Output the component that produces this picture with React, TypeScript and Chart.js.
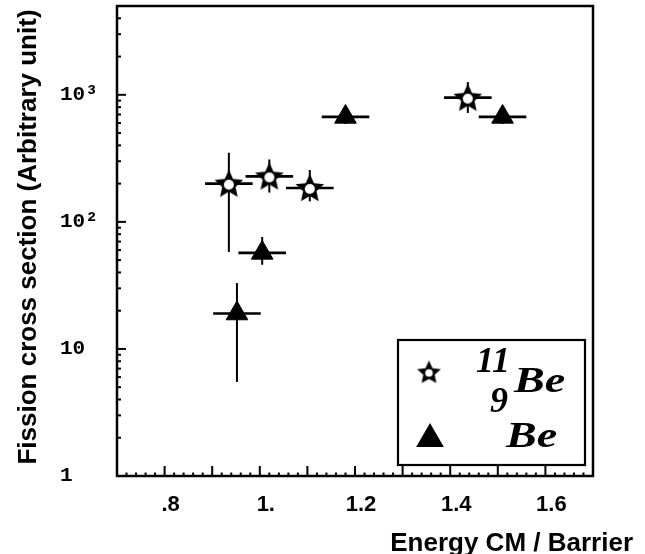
import React, { useEffect, useRef } from "react";
import { Chart, registerables } from "chart.js";

Chart.register(...registerables);

// ---- data ----
const be11X = [0.935, 1.02, 1.105, 1.437];
const be11Y = [200, 228, 185, 950];
const be11XErr = [0.05, 0.05, 0.05, 0.05];
const be11YLow = [58, 170, 145, 720];
const be11YHigh = [350, 310, 256, 1260];

const be9X = [0.952, 1.005, 1.18, 1.51];
const be9Y = [19, 57, 670, 670];
const be9XErr = [0.05, 0.05, 0.05, 0.05];
const be9YLow = [5.5, 46, 590, 590];
const be9YHigh = [33, 76, 760, 760];

const xTickValues = [0.8, 1.0, 1.2, 1.4, 1.6];
const xTickLabels = [".8", "1.", "1.2", "1.4", "1.6"];
const xMajorMarks = [0.8, 0.9, 1.0, 1.1, 1.2, 1.3, 1.4, 1.5, 1.6];
const yTickValues = [1, 10, 100, 1000];
const yTickLabels = ["1", "10", "10²", "10³"];

const xTitle = "Energy CM / Barrier";
const yTitle = "Fission cross section (Arbitrary unit)";

function makeStar(R: number, r: number, hole: number): HTMLCanvasElement {
  const c = document.createElement("canvas");
  const s = Math.ceil(2 * R + 4);
  c.width = s;
  c.height = s;
  const g = c.getContext("2d")!;
  const cx = s / 2;
  const cy = s / 2 + 1;
  g.beginPath();
  for (let i = 0; i < 10; i++) {
    const a = -Math.PI / 2 + (i * Math.PI) / 5;
    const rr = i % 2 === 0 ? R : r;
    const px = cx + Math.cos(a) * rr;
    const py = cy + Math.sin(a) * rr;
    if (i === 0) g.moveTo(px, py);
    else g.lineTo(px, py);
  }
  g.closePath();
  g.fillStyle = "#000";
  g.fill();
  g.beginPath();
  g.arc(cx, cy, hole, 0, Math.PI * 2);
  g.fillStyle = "#fff";
  g.fill();
  return c;
}

export default function App() {
  const ref = useRef<HTMLCanvasElement | null>(null);

  useEffect(() => {
    if (!ref.current) return;
    const star = makeStar(15, 7, 5);
    const legendStar = makeStar(12.5, 6, 3.8);

    const decor = {
      id: "decor",
      beforeDatasetsDraw(chart: any) {
        const { ctx } = chart;
        const x = chart.scales.x;
        const y = chart.scales.y;
        ctx.save();
        ctx.strokeStyle = "#000";
        const drawBars = (
          xs: number[],
          ys: number[],
          xe: number[],
          lo: number[],
          hi: number[]
        ) => {
          for (let i = 0; i < xs.length; i++) {
            const px = x.getPixelForValue(xs[i]);
            const py = y.getPixelForValue(ys[i]);
            ctx.lineWidth = 2.6;
            ctx.beginPath();
            ctx.moveTo(x.getPixelForValue(xs[i] - xe[i]), py);
            ctx.lineTo(x.getPixelForValue(xs[i] + xe[i]), py);
            ctx.stroke();
            ctx.lineWidth = 2;
            ctx.beginPath();
            ctx.moveTo(px, y.getPixelForValue(lo[i]));
            ctx.lineTo(px, y.getPixelForValue(hi[i]));
            ctx.stroke();
          }
        };
        drawBars(be11X, be11Y, be11XErr, be11YLow, be11YHigh);
        drawBars(be9X, be9Y, be9XErr, be9YLow, be9YHigh);
        ctx.restore();
      },
      afterDraw(chart: any) {
        const { ctx, chartArea: ca } = chart;
        const x = chart.scales.x;
        const y = chart.scales.y;
        ctx.save();
        ctx.strokeStyle = "#000";
        ctx.fillStyle = "#000";
        // frame
        ctx.lineWidth = 2.5;
        ctx.strokeRect(ca.left, ca.top, ca.right - ca.left, ca.bottom - ca.top);
        // y ticks (inward)
        ctx.lineWidth = 2;
        for (let d = 1; d <= 1000; d *= 10) {
          for (let m = 1; m <= 9; m++) {
            const v = d * m;
            if (v > y.max) continue;
            const py = y.getPixelForValue(v);
            const len = m === 1 ? 9 : 4;
            ctx.beginPath();
            ctx.moveTo(ca.left, py);
            ctx.lineTo(ca.left + len, py);
            ctx.stroke();
          }
        }
        // x ticks (inward)
        for (let k = 0; k <= 50; k++) {
          const v = 0.7 + k * 0.02;
          if (v > x.max + 1e-9) break;
          const isMajor = xMajorMarks.some((mv) => Math.abs(mv - v) < 1e-6);
          const px = x.getPixelForValue(v);
          const len = isMajor ? 10 : 3.5;
          ctx.beginPath();
          ctx.moveTo(px, ca.bottom);
          ctx.lineTo(px, ca.bottom - len);
          ctx.stroke();
        }
        // axis titles
        ctx.font = "bold 26px 'Liberation Sans', Arial, sans-serif";
        ctx.textAlign = "right";
        ctx.textBaseline = "alphabetic";
        ctx.fillText(xTitle, 633, 551);
        ctx.save();
        ctx.translate(36, (ca.top + ca.bottom) / 2 - 4);
        ctx.rotate(-Math.PI / 2);
        ctx.textAlign = "center";
        ctx.fillText(yTitle, 0, 0);
        ctx.restore();
        // legend box
        const bl = ca.right - 195;
        const br = ca.right - 8;
        const bt = ca.bottom - 136;
        const bb = ca.bottom - 11;
        ctx.fillStyle = "#fff";
        ctx.fillRect(bl, bt, br - bl, bb - bt);
        ctx.lineWidth = 2.2;
        ctx.strokeRect(bl, bt, br - bl, bb - bt);
        ctx.drawImage(
          legendStar,
          bl + 31 - legendStar.width / 2,
          bt + 32 - legendStar.height / 2
        );
        ctx.fillStyle = "#000";
        const tcx = bl + 32;
        const tcy = bt + 99;
        const R = 16;
        ctx.beginPath();
        ctx.moveTo(tcx, tcy - R);
        ctx.lineTo(tcx + R * 0.866, tcy + R * 0.5);
        ctx.lineTo(tcx - R * 0.866, tcy + R * 0.5);
        ctx.closePath();
        ctx.fill();
        ctx.font = "italic bold 36px 'Liberation Serif', 'Times New Roman', serif";
        ctx.textAlign = "left";
        ctx.fillText("11", bl + 78, bt + 32);
        ctx.fillText("9", bl + 92, bt + 72);
        const wide = (t: string, px: number, py: number) => {
          ctx.save();
          ctx.translate(px, py);
          ctx.scale(1.28, 1);
          ctx.fillText(t, 0, 0);
          ctx.restore();
        };
        wide("Be", bl + 116, bt + 52);
        wide("Be", bl + 108, bt + 107);
        ctx.restore();
      },
    };

    const chart = new Chart(ref.current, {
      type: "scatter",
      data: {
        datasets: [
          {
            label: "11Be",
            data: be11X.map((v, i) => ({ x: v, y: be11Y[i] })),
            pointStyle: star as any,
            pointRadius: 15,
            backgroundColor: "#000",
            borderColor: "#000",
          },
          {
            label: "9Be",
            data: be9X.map((v, i) => ({ x: v, y: be9Y[i] })),
            pointStyle: "triangle",
            pointRadius: 12.5,
            backgroundColor: "#000",
            borderColor: "#000",
            borderWidth: 1,
          },
        ],
      },
      plugins: [decor],
      options: {
        responsive: false,
        animation: false,
        events: [],
        layout: { autoPadding: false, padding: { left: 60, top: 6, right: 52, bottom: 0 } },
        plugins: { legend: { display: false }, tooltip: { enabled: false } },
        scales: {
          x: {
            type: "linear",
            min: 0.7,
            max: 1.7,
            grid: { display: false, drawTicks: false },
            border: { display: false },
            afterBuildTicks: (s: any) => {
              s.ticks = xTickValues.map((v) => ({ value: v }));
            },
            afterFit: (s: any) => {
              s.height = 78;
              s.paddingLeft = 0;
              s.paddingRight = 0;
            },
            ticks: {
              autoSkip: false,
              maxRotation: 0,
              padding: 16,
              labelOffset: 6,
              color: "#000",
              font: { family: "'Liberation Sans', Arial, sans-serif", size: 22, weight: "bold" },
              callback: (v: any) => {
                const i = xTickValues.findIndex((t) => Math.abs(t - Number(v)) < 1e-6);
                return i >= 0 ? xTickLabels[i] : "";
              },
            },
          },
          y: {
            type: "logarithmic",
            min: 1,
            max: 5000,
            grid: { display: false, drawTicks: false },
            border: { display: false },
            afterBuildTicks: (s: any) => {
              s.ticks = yTickValues.map((v) => ({ value: v }));
            },
            afterFit: (s: any) => {
              s.width = 57;
              s.paddingTop = 0;
              s.paddingBottom = 0;
            },
            ticks: {
              autoSkip: false,
              crossAlign: "far",
              padding: 8,
              color: "#000",
              font: { family: "'Liberation Mono', 'Courier New', monospace", size: 21, weight: "bold" },
              callback: (v: any) => {
                const i = yTickValues.findIndex((t) => Math.abs(t - Number(v)) < 1e-6);
                return i >= 0 ? yTickLabels[i] : "";
              },
            },
          },
        },
      },
    });
    return () => chart.destroy();
  }, []);

  return (
    <div style={{ position: "absolute", left: 0, top: 0, width: 645, height: 554, background: "#fff" }}>
      <canvas ref={ref} width={645} height={554} />
    </div>
  );
}
